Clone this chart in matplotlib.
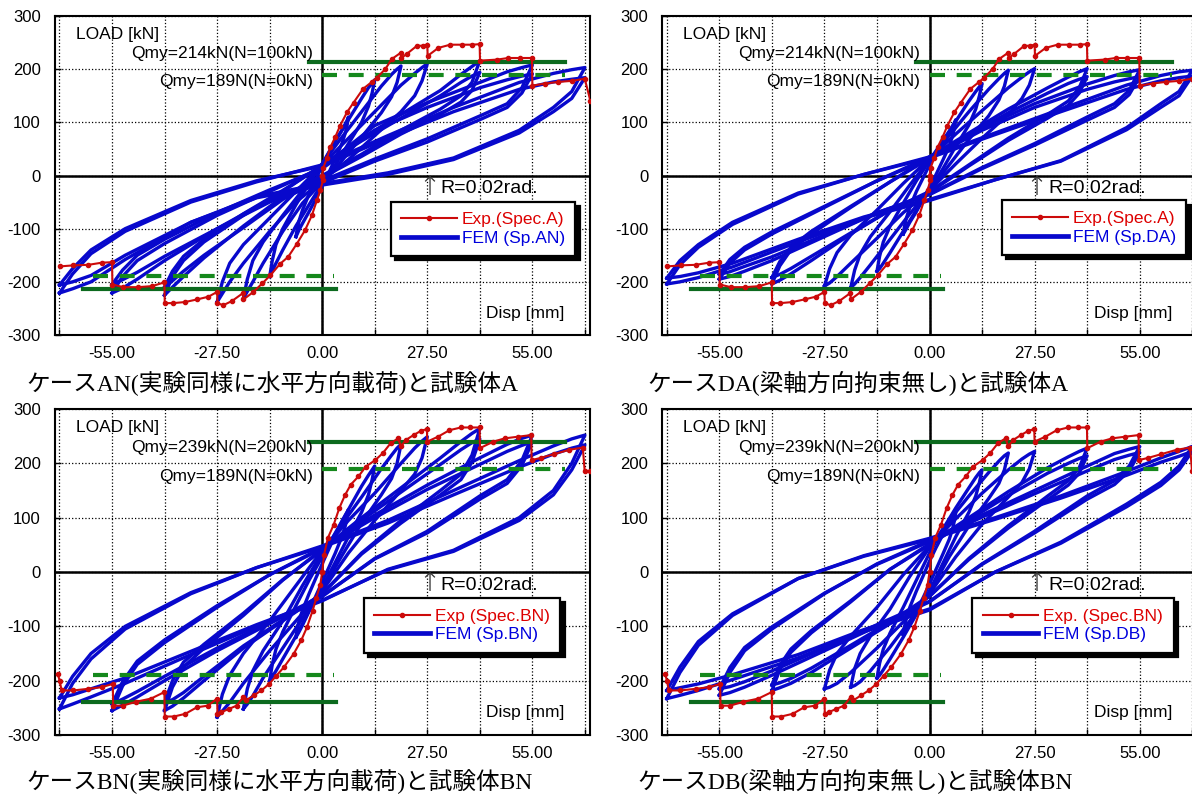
import matplotlib
matplotlib.use('Agg')
import matplotlib.pyplot as plt
from matplotlib.lines import Line2D

plt.rcParams['font.family'] = ['Liberation Sans', 'DejaVu Sans']
plt.rcParams['axes.unicode_minus'] = False

# 載荷振幅 [mm]  (R = 0.005, 0.01, 0.015, 0.02, 0.03, 0.04, 0.05 rad)
amps = [6.875, 13.75, 20.625, 27.5, 41.25, 55.0, 68.75]
# 2サイクル目を描く振幅
amps2 = [41.25, 55.0, 68.75]
# ループ上の読み取り位置 (振幅に対する比)
frac = [-1, -0.95, -0.88, -0.75, -0.5, -0.25, 0, 0.25, 0.5, 0.75, 0.88, 0.95, 1]

# FEM: 正側へ向かう枝 (-A -> +A) と 負側へ向かう枝 (+A -> -A) の荷重 [kN]
fem_an_up = [
    [-115, -100, -85, -65, -35, -8, 18, 42, 65, 85, 97, 104, 110],
    [-190, -160, -130, -100, -55, -15, 22, 65, 105, 145, 165, 174, 180],
    [-231, -195, -160, -125, -75, -28, 22, 72, 120, 168, 190, 200, 206],
    [-238, -200, -165, -130, -80, -30, 20, 70, 120, 170, 192, 203, 210],
    [-225, -190, -160, -125, -75, -30, 20, 70, 115, 160, 190, 205, 216],
    [-221, -190, -160, -128, -75, -30, 15, 94, 137, 175, 195, 203, 208],
    [-221, -185, -147, -105, -50, -12, 20, 75, 128, 175, 192, 199, 203],
]
fem_an_down = [
    [110, 95, 80, 60, 32, 5, -20, -45, -68, -90, -102, -110, -115],
    [180, 155, 130, 100, 60, 20, -15, -55, -95, -140, -165, -180, -190],
    [206, 175, 148, 118, 72, 28, -12, -52, -105, -165, -200, -218, -231],
    [210, 178, 150, 120, 75, 30, -10, -50, -105, -165, -200, -222, -238],
    [216, 175, 150, 125, 85, 40, 0, -40, -95, -155, -190, -210, -225],
    [208, 165, 135, 112, 69, 31, -10, -45, -100, -160, -195, -212, -221],
    [203, 158, 128, 85, 33, 5, -15, -40, -88, -158, -200, -213, -221],
]
fem_an_up2 = [
    [-210, -180, -152, -120, -72, -28, 18, 65, 108, 150, 175, 187, 194],
    [-205, -178, -150, -120, -70, -27, 13, 85, 128, 165, 180, 187, 191],
    [-206, -175, -140, -100, -47, -10, 18, 70, 120, 162, 176, 181, 184],
]
fem_an_down2 = [
    [194, 160, 138, 115, 78, 36, -4, -45, -98, -150, -180, -198, -210],
    [191, 155, 128, 105, 63, 27, -14, -50, -100, -152, -182, -196, -205],
    [184, 145, 120, 80, 30, 2, -18, -42, -88, -150, -188, -200, -206],
]

fem_da_up = [
    [-110, -95, -80, -60, -30, -5, 20, 42, 62, 82, 93, 100, 105],
    [-180, -152, -125, -95, -52, -10, 28, 65, 102, 140, 158, 167, 173],
    [-211, -178, -148, -115, -68, -18, 30, 75, 120, 162, 182, 192, 198],
    [-208, -175, -145, -112, -65, -15, 32, 78, 122, 165, 185, 195, 201],
    [-204, -170, -140, -110, -60, -12, 35, 80, 125, 165, 185, 195, 201],
    [-195, -165, -140, -110, -60, -10, 35, 90, 135, 172, 188, 195, 199],
    [-204, -168, -135, -92, -35, 2, 35, 80, 125, 170, 188, 195, 198],
]
fem_da_down = [
    [105, 90, 75, 55, 28, 2, -22, -45, -68, -88, -100, -106, -110],
    [173, 150, 125, 95, 55, 12, -28, -65, -105, -145, -165, -175, -180],
    [198, 168, 142, 112, 68, 20, -28, -72, -120, -168, -192, -204, -211],
    [201, 170, 145, 115, 70, 22, -28, -70, -118, -165, -190, -202, -208],
    [201, 165, 140, 115, 70, 20, -30, -65, -110, -160, -185, -197, -204],
    [199, 160, 135, 110, 60, 15, -35, -70, -115, -160, -180, -190, -195],
    [198, 158, 135, 90, 28, -8, -47, -80, -125, -172, -192, -200, -204],
]
fem_da_up2 = [
    [-192, -162, -135, -105, -58, -12, 32, 76, 118, 155, 173, 181, 186],
    [-186, -158, -135, -106, -58, -10, 32, 85, 128, 162, 176, 182, 186],
    [-193, -160, -130, -88, -33, 2, 33, 77, 120, 162, 178, 184, 187],
]
fem_da_down2 = [
    [186, 155, 132, 108, 66, 18, -32, -65, -108, -152, -175, -186, -192],
    [186, 152, 128, 104, 57, 13, -36, -70, -112, -153, -171, -181, -186],
    [187, 150, 128, 86, 27, -8, -45, -78, -120, -165, -183, -190, -193],
]

fem_bn_up = [
    [-120, -105, -90, -70, -40, -12, 15, 42, 68, 92, 104, 110, 115],
    [-200, -170, -142, -110, -62, -15, 28, 72, 115, 158, 178, 188, 195],
    [-252, -215, -182, -145, -90, -25, 35, 88, 138, 190, 215, 228, 235],
    [-267, -225, -190, -150, -90, -25, 40, 95, 145, 200, 228, 241, 249],
    [-255, -212, -175, -140, -80, -15, 42, 100, 155, 210, 240, 255, 264],
    [-255, -210, -170, -130, -65, -5, 45, 105, 160, 210, 235, 246, 252],
    [-252, -205, -160, -105, -40, 8, 48, 95, 150, 205, 232, 245, 252],
]
fem_bn_down = [
    [115, 100, 85, 65, 35, 8, -18, -45, -72, -98, -110, -116, -120],
    [195, 170, 142, 110, 65, 18, -28, -72, -118, -160, -182, -193, -200],
    [235, 200, 172, 142, 90, 30, -32, -85, -140, -195, -228, -243, -252],
    [249, 210, 180, 150, 95, 35, -35, -90, -145, -205, -240, -256, -267],
    [264, 215, 180, 150, 95, 35, -40, -90, -140, -200, -232, -247, -255],
    [252, 205, 170, 140, 75, 25, -45, -95, -145, -200, -230, -245, -255],
    [252, 200, 150, 100, 40, 5, -53, -100, -152, -205, -230, -243, -252],
]
fem_bn_up2 = [
    [-240, -200, -166, -133, -76, -14, 40, 95, 147, 198, 225, 238, 245],
    [-243, -202, -164, -125, -62, -5, 43, 100, 152, 198, 222, 233, 240],
    [-232, -192, -150, -100, -38, 8, 46, 90, 142, 193, 217, 228, 234],
]
fem_bn_down2 = [
    [245, 202, 170, 142, 90, 33, -40, -88, -136, -192, -222, -235, -240],
    [240, 196, 163, 134, 72, 24, -44, -92, -140, -192, -220, -234, -243],
    [234, 188, 142, 95, 38, 4, -52, -97, -146, -195, -215, -226, -232],
]

fem_db_up = [
    [-115, -100, -85, -65, -35, -8, 20, 45, 68, 90, 100, 106, 110],
    [-195, -168, -142, -112, -65, -15, 35, 78, 118, 155, 174, 183, 188],
    [-212, -178, -150, -118, -68, -8, 45, 95, 140, 183, 204, 214, 219],
    [-215, -180, -150, -118, -65, -5, 48, 98, 145, 188, 208, 217, 222],
    [-218, -180, -148, -112, -55, 5, 52, 100, 148, 192, 212, 222, 228],
    [-227, -185, -145, -105, -40, 15, 58, 105, 150, 195, 218, 226, 231],
    [-233, -185, -135, -80, -12, 30, 62, 100, 140, 185, 210, 222, 231],
]
fem_db_down = [
    [110, 95, 80, 60, 32, 5, -22, -48, -72, -95, -106, -112, -115],
    [188, 165, 140, 110, 65, 15, -35, -78, -120, -160, -180, -190, -195],
    [219, 188, 163, 135, 85, 28, -38, -90, -138, -182, -202, -209, -212],
    [222, 190, 165, 138, 88, 28, -40, -92, -140, -185, -205, -212, -215],
    [228, 192, 168, 140, 85, 25, -45, -95, -140, -185, -205, -213, -218],
    [231, 195, 168, 140, 75, 15, -55, -100, -145, -190, -212, -222, -227],
    [231, 195, 165, 125, 55, 0, -70, -110, -158, -198, -218, -227, -233],
]
fem_db_up2 = [
    [-208, -172, -142, -108, -53, 5, 50, 96, 141, 182, 200, 209, 214],
    [-215, -176, -139, -101, -39, 14, 56, 101, 144, 186, 207, 215, 220],
    [-218, -175, -128, -77, -12, 29, 60, 97, 136, 178, 202, 213, 222],
]
fem_db_down2 = [
    [214, 182, 160, 133, 81, 23, -44, -92, -135, -177, -196, -204, -208],
    [220, 186, 161, 134, 72, 14, -54, -97, -140, -182, -202, -211, -215],
    [222, 188, 159, 120, 53, 0, -68, -106, -152, -189, -206, -213, -218],
]

# 実験 包絡線 (試験体A)
exp_a_pos_x = [0, 0.3, 1.2, 2.1, 3.4, 4.7, 6.5, 8.2, 10.7, 13.0, 14.3, 16.5, 18.2, 20.6, 20.7, 22.2,
               24.8, 26.4, 27.5, 27.6, 30.4, 33.5, 36.6, 39.3, 41.2, 41.3, 45.8, 48.7, 51.8, 54.9,
               55.0, 58.4, 61.8, 65.4, 68.7, 70.2]
exp_a_pos_y = [0, 15, 32, 53, 72, 94, 119, 137, 163, 176, 184, 200, 219, 231, 221, 229,
               244, 244, 246, 225, 240, 246, 246, 246, 247, 216, 218, 221, 221, 221,
               169, 173, 176, 178, 182, 140]
exp_a_neg_x = [0, 0.2, -0.5, -1.4, -2.7, -4.5, -6.6, -8.9, -11.0, -13.6, -15.7, -18.0, -20.6, -20.7,
               -23.6, -25.9, -27.4, -27.5, -29.8, -32.7, -35.9, -39.0, -41.2, -41.3, -44.5, -48.2,
               -52.0, -54.9, -55.0, -57.7, -61.2, -65.1, -68.7]
exp_a_neg_y = [0, -9, -28, -47, -75, -103, -128, -153, -166, -188, -203, -219, -233, -221,
               -236, -244, -240, -219, -228, -233, -238, -240, -240, -201, -208, -210,
               -210, -205, -163, -164, -168, -169, -171]

# 実験 包絡線 (試験体BN)
exp_bn_pos_x = [0, 0.5, 1.5, 3.0, 4.5, 6.0, 7.5, 9.5, 11.4, 13.9, 15.9, 17.9, 19.9, 20.6, 21.9, 23.9,
                25.9, 27.4, 27.5, 30.3, 33.3, 36.3, 38.8, 41.2, 41.3, 44.8, 47.8, 51.2, 54.7, 54.8,
                57.2, 60.7, 64.7, 68.2, 68.7, 70.0]
exp_bn_pos_y = [0, 32, 63, 87, 118, 142, 161, 176, 194, 206, 219, 237, 246, 231, 243, 252,
                260, 263, 240, 249, 261, 266, 266, 266, 228, 240, 246, 249, 252, 206,
                210, 217, 225, 229, 185, 185]
exp_bn_neg_x = [0, -0.5, -1.5, -2.5, -4.0, -5.5, -7.5, -10.0, -12.0, -13.9, -15.9, -17.9, -19.9,
                -20.6, -22.4, -24.4, -26.4, -27.4, -27.5, -29.9, -32.8, -35.8, -38.8, -41.2, -41.3,
                -44.8, -48.8, -52.2, -54.7, -54.8, -57.7, -61.2, -65.2, -68.2, -68.7, -69.2]
exp_bn_neg_y = [0, -23, -47, -71, -102, -126, -151, -175, -191, -206, -218, -227, -236,
                -230, -246, -252, -258, -261, -233, -246, -249, -261, -266, -266, -221,
                -233, -239, -246, -246, -206, -212, -215, -218, -218, -200, -188]

qmy0 = 189
qmy_a = 214
qmy_bn = 239

xticks = [-68.75, -55.0, -41.25, -27.5, -13.75, 0.0, 13.75, 27.5, 41.25, 55.0, 68.75]
xticklabels = ['', '-55.00', '', '-27.50', '', '0.00', '', '27.50', '', '55.00', '']
yticks = [-300, -200, -100, 0, 100, 200, 300]

panels = [
    dict(up=fem_an_up, dn=fem_an_down, up2=fem_an_up2, dn2=fem_an_down2,
         ex=(exp_a_neg_x, exp_a_neg_y, exp_a_pos_x, exp_a_pos_y),
         qmy=qmy_a, qtxt='Qmy=214kN(N=100kN)', lexp='Exp.(Spec.A)', lfem='FEM (Sp.AN)',
         cap='ケースAN(実験同様に水平方向載荷)と試験体A',
         box=(0.0459, 0.5807, 0.4488, 0.3993), leg=(0.628, 0.418), capxy=(26, 383)),
    dict(up=fem_da_up, dn=fem_da_down, up2=fem_da_up2, dn2=fem_da_down2,
         ex=(exp_a_neg_x, exp_a_neg_y, exp_a_pos_x, exp_a_pos_y),
         qmy=qmy_a, qtxt='Qmy=214kN(N=100kN)', lexp='Exp.(Spec.A)', lfem='FEM (Sp.DA)',
         cap='ケースDA(梁軸方向拘束無し)と試験体A',
         box=(0.5554, 0.5807, 0.4488, 0.3993), leg=(0.635, 0.422), capxy=(647, 383)),
    dict(up=fem_bn_up, dn=fem_bn_down, up2=fem_bn_up2, dn2=fem_bn_down2,
         ex=(exp_bn_neg_x, exp_bn_neg_y, exp_bn_pos_x, exp_bn_pos_y),
         qmy=qmy_bn, qtxt='Qmy=239kN(N=200kN)', lexp='Exp (Spec.BN)', lfem='FEM (Sp.BN)',
         cap='ケースBN(実験同様に水平方向載荷)と試験体BN',
         box=(0.0459, 0.0801, 0.4488, 0.408), leg=(0.578, 0.42), capxy=(26, 781)),
    dict(up=fem_db_up, dn=fem_db_down, up2=fem_db_up2, dn2=fem_db_down2,
         ex=(exp_bn_neg_x, exp_bn_neg_y, exp_bn_pos_x, exp_bn_pos_y),
         qmy=qmy_bn, qtxt='Qmy=239kN(N=200kN)', lexp='Exp. (Spec.BN)', lfem='FEM (Sp.DB)',
         cap='ケースDB(梁軸方向拘束無し)と試験体BN',
         box=(0.5554, 0.0801, 0.4488, 0.408), leg=(0.58, 0.42), capxy=(637, 781)),
]

blue = '#0808cc'
red = '#cc0a0a'
g_solid = '#0c6a1e'
g_dash = '#15881c'

fig = plt.figure(figsize=(11.92, 7.99), dpi=100)

for p in panels:
    ax = fig.add_axes(p['box'])
    ax.set_xlim(-70, 70)
    ax.set_ylim(-300, 300)
    ax.set_axisbelow(True)
    ax.grid(True, ls=':', color='k', lw=0.9)
    ax.set_xticks(xticks)
    ax.set_xticklabels(xticklabels)
    ax.set_yticks(yticks)
    ax.tick_params(direction='in', length=4, width=1, labelsize=12)
    ax.tick_params(axis='x', pad=8)
    ax.tick_params(axis='y', pad=10)
    for s in ax.spines.values():
        s.set_linewidth(1.5)
    ax.axhline(0, color='k', lw=1.8, zorder=1.5)
    ax.axvline(0, color='k', lw=1.8, zorder=1.5)

    # FEM ループ (1サイクル目, 2サイクル目)
    loops = list(zip(amps, p['up'], p['dn'])) + list(zip(amps2, p['up2'], p['dn2']))
    for A, up, dn in loops:
        xs = [f * A for f in frac]
        ax.plot(xs + xs[::-1], up + dn, color=blue, lw=2.4, zorder=2,
                solid_joinstyle='round')

    # Qmy ライン
    ax.plot([-3.5, 63.5], [p['qmy'], p['qmy']], color=g_solid, lw=3, zorder=3)
    ax.plot([0, 63.5], [qmy0, qmy0], color=g_dash, lw=3, ls=(0, (3.6, 2.8)), zorder=3)
    ax.plot([-60, 3], [-qmy0, -qmy0], color=g_dash, lw=3, ls=(0, (3.6, 2.8)), zorder=3)
    ax.plot([-62.5, 3.5], [-p['qmy'], -p['qmy']], color=g_solid, lw=3, zorder=3)

    # 実験値
    nx, ny, px, py = p['ex']
    ax.plot(nx[::-1] + px, ny[::-1] + py, color=red, lw=1.5, marker='o', ms=3,
            zorder=4)

    ax.text(-64.5, 266, 'LOAD [kN]', fontsize=12.5, va='center')
    ax.text(-2.5, 230, p['qtxt'], fontsize=12.5, va='center', ha='right')
    ax.text(-2.5, 176, 'Qmy=189N(N=0kN)', fontsize=12.5, va='center', ha='right')
    ax.text(28.0, -22, '↑', fontsize=19, va='center', ha='center', color='#333333',
            family='DejaVu Sans', fontweight='light')
    ax.text(31.0, -25, 'R=0.02rad.', fontsize=14, va='center')
    ax.text(63.5, -259, 'Disp [mm]', fontsize=12.5, va='center', ha='right')

    h_exp = Line2D([], [], color=red, lw=1.5, marker='o', ms=3)
    h_fem = Line2D([], [], color=blue, lw=3.4)
    leg = ax.legend([h_exp, h_fem], [p['lexp'], p['lfem']], loc='upper left',
                    bbox_to_anchor=p['leg'], fontsize=12.5, fancybox=False,
                    edgecolor='black', framealpha=1, numpoints=1,
                    handlelength=3.2, handletextpad=0.3, labelspacing=0.2,
                    borderpad=0.6, borderaxespad=0,
                    shadow={'color': 'black', 'alpha': 1, 'ox': 3, 'oy': -3})
    leg.get_frame().set_linewidth(1.6)
    leg.get_texts()[0].set_color('#dd0000')
    leg.get_texts()[1].set_color('#0000dd')

    cx, cy = p['capxy']
    fig.text(cx / 1192, 1 - cy / 799, p['cap'], fontsize=17, va='center',
             family=['Liberation Serif', 'Noto Sans CJK JP'])

fig.savefig('out.png', dpi=100)
